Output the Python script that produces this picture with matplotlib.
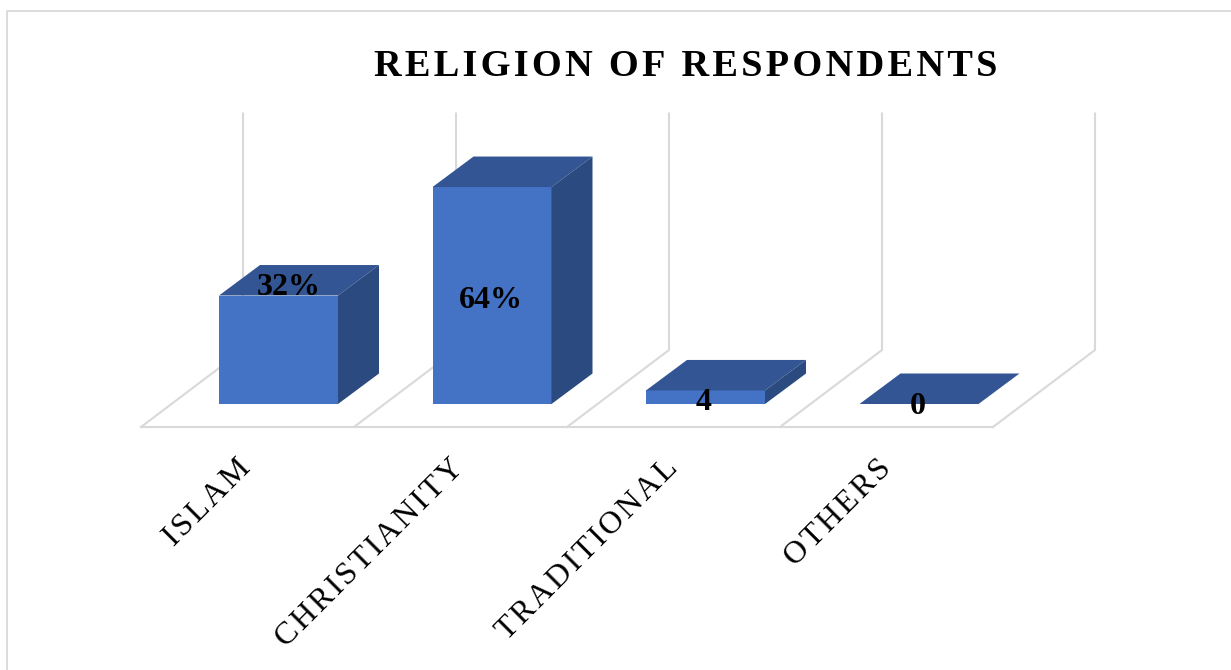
import matplotlib
matplotlib.use("Agg")
import matplotlib.pyplot as plt
from matplotlib.patches import Polygon

categories = ["ISLAM", "CHRISTIANITY", "TRADITIONAL", "OTHERS"]
values = [32, 64, 4, 0]
data_labels = ["32%", "64%", "4", "0"]
title = "RELIGION OF RESPONDENTS"

plt.rcParams["font.family"] = ["Liberation Serif", "DejaVu Serif"]

W, H = 1231, 670
fig = plt.figure(figsize=(W / 100, H / 100), dpi=100)
ax = fig.add_axes([0, 0, 1, 1])
ax.axis("off")

# pixel layout of the fake 3d box
x_step = 213.5
x0_px = 278.5
y0_px = 404
y_scale = 3.39
ax.set_xlim(-x0_px / x_step, (W - x0_px) / x_step)
ax.set_ylim((y0_px - H) / y_scale, y0_px / y_scale)

bar_w = 119 / x_step
dx = 41 / x_step
dy = 30.5 / y_scale
floor_y = (y0_px - 427) / y_scale
floor_dx = 102 / x_step
floor_dy = 77 / y_scale
wall_top = (y0_px - 113.5) / y_scale
grid_step = 213 / x_step
grid = "#d9d9d9"
front = "#4472c4"
top = "#335593"
side = "#2b4a80"
hair = "\u200a"

# floor and back wall
xf0 = -137.5 / x_step
for i in range(5):
    xf = xf0 + i * grid_step
    ax.plot([xf, xf + floor_dx, xf + floor_dx], [floor_y, floor_y + floor_dy, wall_top],
            color=grid, lw=1.5, zorder=1)
ax.plot([xf0, xf0 + 4 * grid_step], [floor_y, floor_y], color=grid, lw=1.5, zorder=1)

# bars
for i, v in enumerate(values):
    l = i - bar_w / 2
    r = i + bar_w / 2
    ax.bar(i, v, width=bar_w, color=front, linewidth=0, zorder=3)
    ax.add_patch(Polygon([(l, v), (r, v), (r + dx, v + dy), (l + dx, v + dy)],
                         closed=True, fc=top, ec="none", zorder=3))
    ax.add_patch(Polygon([(r, 0), (r, v), (r + dx, v + dy), (r + dx, dy)],
                         closed=True, fc=side, ec="none", zorder=3))

# data labels
label_x = [0.05, -0.003, -0.007, -0.005]
label_y = [34.5, 30.5, 0.5, -0.6]
for i, s in enumerate(data_labels):
    ax.text(i + label_x[i], label_y[i], s, ha="center", va="center", fontsize=23,
            fontweight="bold", color="black", zorder=4)

# category labels, right end anchored under each slot
for i, c in enumerate(categories):
    ax.text(i - 0.2, floor_y - 27 / y_scale, hair.join(c), rotation=45, rotation_mode="anchor",
            ha="right", va="top", fontsize=23, color="black", zorder=4)

ax.text((685.5 - x0_px) / x_step, (y0_px - 66.5) / y_scale, hair.join(title), ha="center", va="center",
        fontsize=27.6, fontweight="bold", color="black")

# chart border, only left and top show in the crop
left_px = (7 - x0_px) / x_step
ax.plot([left_px, left_px, (W - x0_px) / x_step],
        [(y0_px - H) / y_scale, (y0_px - 11) / y_scale, (y0_px - 11) / y_scale],
        color=grid, lw=1.3, zorder=1)

fig.savefig("out.png", dpi=100)
